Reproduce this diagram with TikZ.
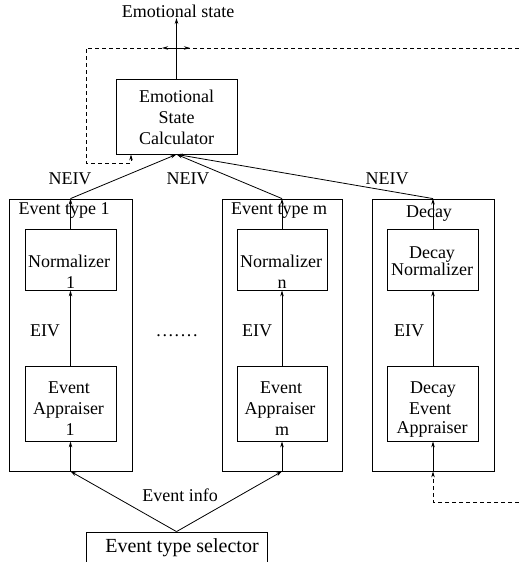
\documentclass[tikz,border=0pt]{standalone}
\usepackage{fontspec}
\setmainfont{Liberation Serif}
\usetikzlibrary{arrows.meta}
\newcommand{\dotrow}{.\kern1.6bp.\kern1.6bp.\kern1.6bp.\kern1.6bp.\kern1.6bp.\kern1.6bp.}
\begin{document}
\begin{tikzpicture}[x=1bp,y=-1bp,line width=0.8bp,
  >={Stealth[length=6bp,width=3.5bp]},
  every node/.style={font=\fontsize{18bp}{21bp}\selectfont,inner sep=0pt},
  txt/.style={anchor=base},
  blk/.style={draw,minimum width=#1},
  dsh/.style={dash pattern=on 4bp off 3bp}]
\clip (0,0) rectangle (519,562);
% boxes
\node[blk=121bp,minimum height=75bp] (esc) at (176.5,116.5) {};
\node[blk=123bp,minimum height=272bp] (o1) at (70.5,335) {};
\node[blk=120bp,minimum height=272bp] (o2) at (282,335) {};
\node[blk=122bp,minimum height=272bp] (o3) at (433,335) {};
\node[blk=91bp,minimum height=61bp] (n1) at (70.5,259.5) {};
\node[blk=90bp,minimum height=61bp] (n2) at (282,259.5) {};
\node[blk=91bp,minimum height=61bp] (n3) at (433,259.5) {};
\node[blk=91bp,minimum height=75bp] (a1) at (70.5,403.5) {};
\node[blk=90bp,minimum height=75bp] (a2) at (282,403.5) {};
\node[blk=91bp,minimum height=75bp] (a3) at (433,403.5) {};
\node[blk=181bp,minimum height=60bp] (sel) at (176.5,562) {};
% texts
\node[txt] (es) at (178,18) {Emotional state};
\node[txt] (t1) at (176.5,103) {Emotional};
\node[txt] (t2) at (176.5,124) {State};
\node[txt] (t3) at (176.5,145) {Calculator};
\node[txt] (ne1) at (70,185) {NEIV};
\node[txt] (ne2) at (188,185) {NEIV};
\node[txt] (ne3) at (387,185) {NEIV};
\node[txt] (h1) at (64,215) {Event type 1};
\node[txt] (h2) at (279,215) {Event type m};
\node[txt] (h3) at (429,218) {Decay};
\node[txt] (n1a) at (69,267) {Normalizer};
\node[txt] (n1b) at (70.5,288) {1};
\node[txt] (n2a) at (281,267) {Normalizer};
\node[txt] (n2b) at (282,288) {n};
\node[align=center,font=\fontsize{18bp}{16bp}\selectfont] (n3a) at (432,261) {Decay\\Normalizer};
\node[txt] (e1) at (45,336) {EIV};
\node[txt] (e2) at (257,336) {EIV};
\node[txt] (e3) at (409,336) {EIV};
\node[txt] (dots) at (177,336) {\dotrow};
\node[txt] (a1a) at (69,393) {Event};
\node[txt] (a1b) at (68.5,414) {Appraiser};
\node[txt] (a1c) at (70,435) {1};
\node[txt] (a2a) at (281,393) {Event};
\node[txt] (a2b) at (280,414) {Appraiser};
\node[txt] (a2c) at (282,435) {m};
\node[txt] (a3a) at (433,393) {Decay};
\node[txt] (a3b) at (430,414) {Event};
\node[txt] (a3c) at (432,433) {Appraiser};
\node[txt] (ei) at (180,501) {Event info};
\node[txt,font=\fontsize{20bp}{24bp}\selectfont] (st) at (182,552) {Event type selector};
% connectors
\draw[->] (esc.north) -- (esc.north |- es.base);
\draw[<->] (162,48) -- (190,48);
\coordinate (dR) at (519,48);
\draw[dsh,->] (dR) -- (86,48) -- (86,163) -- (131,163) -- (131,0 |- esc.south);
\foreach \i in {1,2,3}{
  \draw[->] (a\i.north) -- (n\i.south);
  \draw[->] (n\i.north) -- (o\i.north);
  \draw[->] (o\i.north) -- (esc.south);
  \draw[->] (o\i.south) -- (a\i.south);
}
\draw[->] (sel.north) -- (o1.south);
\draw[->] (sel.north) -- (o2.south);
\coordinate (dR2) at (519,502);
\draw[dsh,->] (dR2) -- (o3.south |- dR2) -- (o3.south);
\end{tikzpicture}
\end{document}
